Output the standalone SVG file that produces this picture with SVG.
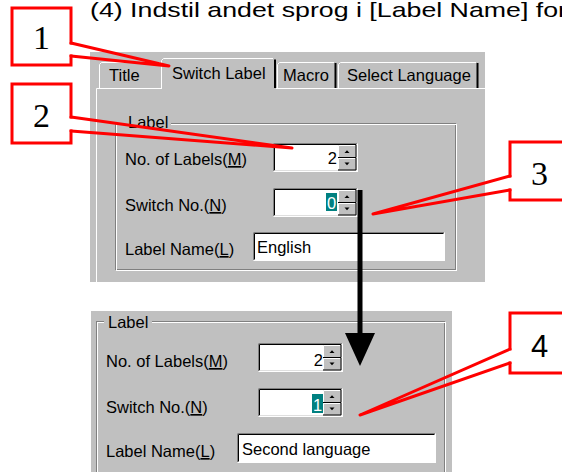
<svg xmlns="http://www.w3.org/2000/svg" width="562" height="472" viewBox="0 0 562 472">
<style>
text{font-family:"Liberation Sans",Arial,sans-serif;fill:#000;}
.ui{font-size:16.5px;}
.num{font-family:"Liberation Serif","Times New Roman",serif;font-size:34px;text-anchor:middle;}
.num4{font-size:31px;text-anchor:middle;}
.box{fill:#fff;stroke:none;}
.red{fill:none;stroke:#f00;stroke-width:3;stroke-linejoin:miter;stroke-linecap:square;}
.wedge{fill:none;stroke:#f00;stroke-width:3;stroke-linejoin:round;stroke-linecap:round;}
.panel{fill:#c0c0c0;}
.wl{stroke:#fff;fill:none;}
.dl{stroke:#808080;fill:none;}
.bl{stroke:#000;fill:none;}
.sel{fill:#008080;}
.seltx{fill:#fff;text-anchor:middle;}
</style>
<defs>
<g id="spin">
<rect x="0" y="0" width="85" height="29" fill="#fff"/>
<path class="dl" d="M0.5,28.5V0.5H84.5"/>
<path class="bl" d="M1.5,27.5V1.5H83.5"/>
<path class="wl" d="M0.5,28.5H84.5V0.5"/>
<path d="M1.5,27.5H83.5V1.5" stroke="#dfdfdf" fill="none"/>
<rect x="65" y="2" width="18" height="12.5" fill="#c0c0c0"/>
<rect x="65" y="14.5" width="18" height="12.5" fill="#c0c0c0"/>
<path class="wl" d="M65.5,14V2.5H82"/>
<path class="bl" d="M65,14.5H83V2"/>
<path class="wl" d="M65.5,26.5V15.5H82"/>
<path class="bl" d="M65,27H83V15"/>
<polygon points="71.5,10 76.5,10 74,7.2" fill="#000"/>
<polygon points="71.5,19.5 76.5,19.5 74,22.3" fill="#000"/>
</g>
</defs>

<g id="title">
<text x="90" y="17" font-size="21" textLength="477" lengthAdjust="spacingAndGlyphs">(4) Indstil andet sprog i [Label Name] for</text>
</g>

<g id="dialog-top">
<rect class="panel" x="90" y="52" width="395" height="230"/>
<path class="wl" d="M96.5,282V88.5H161M276,88.5H485"/>
<g id="tab-title">
<path class="wl" d="M99.5,88V64.5L101.5,62.5H160"/>
<text class="ui" x="109" y="81">Title</text>
</g>
<g id="tab-switch">
<path class="wl" d="M161.5,89V60.5L163.5,58.5H273"/>
<path class="bl" d="M275,59.5V88" stroke-width="2"/>
<text class="ui" x="172" y="79">Switch Label</text>
</g>
<g id="tab-macro">
<path class="wl" d="M277.5,88V64.5L279.5,62.5H334"/>
<path class="bl" d="M335.5,63V88" stroke-width="2"/>
<text class="ui" x="283" y="81">Macro</text>
</g>
<g id="tab-lang">
<path class="wl" d="M338.5,88V64.5L340.5,62.5H476"/>
<path class="bl" d="M477.5,63V88" stroke-width="2"/>
<text class="ui" x="347" y="81">Select Language</text>
</g>
<rect class="dl" x="115.5" y="123.5" width="340" height="146"/>
<rect class="wl" x="116.5" y="124.5" width="340" height="146"/>
<rect class="panel" x="124" y="116" width="47" height="12"/>
<text class="ui" x="128" y="128">Label</text>
<text class="ui" x="125" y="165">No. of Labels(<tspan text-decoration="underline">M</tspan>)</text>
<text class="ui" x="125" y="211">Switch No.(<tspan text-decoration="underline">N</tspan>)</text>
<text class="ui" x="125" y="255">Label Name(<tspan text-decoration="underline">L</tspan>)</text>
<use href="#spin" x="273" y="143"/>
<text class="ui" x="337" y="164" text-anchor="end">2</text>
<use href="#spin" x="273" y="188"/>
<rect class="sel" x="326" y="193" width="11" height="18"/>
<text class="ui seltx" x="331.5" y="209">0</text>
<rect x="253" y="232" width="192" height="29" fill="#fff"/>
<path class="dl" d="M253.5,260.5V232.5H444.5"/>
<path class="bl" d="M254.5,259.5V233.5H443.5"/>
<path class="wl" d="M253.5,260.5H444.5V232.5"/>
<text class="ui" x="257" y="253">English</text>
</g>

<g id="dialog-bottom">
<rect class="panel" x="91" y="311" width="361" height="161"/>
<rect class="dl" x="96.5" y="321.5" width="348" height="160"/>
<rect class="wl" x="97.5" y="322.5" width="348" height="160"/>
<rect class="panel" x="104" y="314" width="48" height="12"/>
<text class="ui" x="108" y="328">Label</text>
<text class="ui" x="106" y="367">No. of Labels(<tspan text-decoration="underline">M</tspan>)</text>
<text class="ui" x="106" y="413">Switch No.(<tspan text-decoration="underline">N</tspan>)</text>
<text class="ui" x="106" y="457">Label Name(<tspan text-decoration="underline">L</tspan>)</text>
<use href="#spin" x="258" y="343"/>
<text class="ui" x="323" y="366" text-anchor="end">2</text>
<use href="#spin" x="258" y="388"/>
<rect class="sel" x="312" y="394" width="11" height="19"/>
<text class="ui seltx" x="317.5" y="411">1</text>
<rect x="237" y="433" width="199" height="30" fill="#fff"/>
<path class="dl" d="M237.5,462.5V433.5H435.5"/>
<path class="bl" d="M238.5,461.5V434.5H434.5"/>
<path class="wl" d="M237.5,462.5H435.5V433.5"/>
<text class="ui" x="242" y="455">Second language</text>
</g>

<g id="callout-1">
<rect class="box" x="12" y="8" width="59" height="57"/>
<path class="red" d="M71,43V8H12V65H71V56"/>
<text class="num" x="41.5" y="49">1</text>
</g>
<g id="callout-2">
<rect class="box" x="12" y="84" width="59" height="59"/>
<path class="red" d="M71,117V84H12V143H71V131"/>
<text class="num" x="41.5" y="127">2</text>
</g>
<g id="callout-3">
<rect class="box" x="510" y="142" width="60" height="58"/>
<path class="red" d="M510,176V142H570M570,200H510V190"/>
<text class="num" x="539.5" y="185">3</text>
</g>
<g id="callout-4">
<rect class="box" x="510" y="313" width="60" height="60"/>
<path class="red" d="M510,349V313H570M570,373H510V363"/>
<text class="num4" x="539.5" y="357">4</text>
</g>

<g id="connectors">
<path class="wedge" d="M71,43L169,66L71,56"/>
<path class="wedge" d="M71,117L292,148L71,131"/>
<path class="wedge" d="M510,176L373,214L510,190"/>
<path class="wedge" d="M510,349L360,415L510,363"/>
<line x1="360" y1="190" x2="360" y2="336" stroke="#000" stroke-width="5"/>
<polygon points="345,333 375,333 360,366" fill="#000"/>
</g>
</svg>
